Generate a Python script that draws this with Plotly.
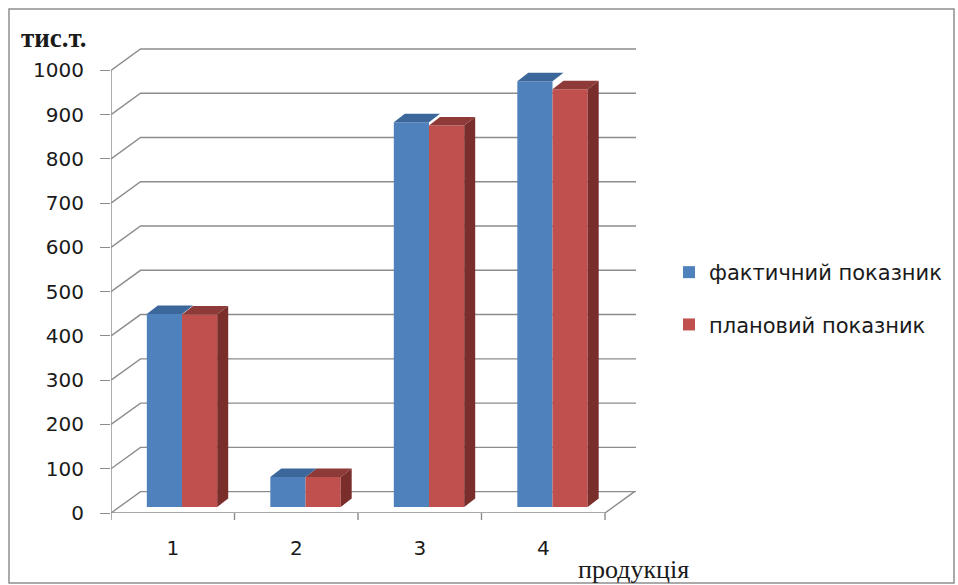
import plotly.graph_objects as go

# ---- data -------------------------------------------------------------
categories = ["1", "2", "3", "4"]
actual = [436, 68, 869, 962]      # фактичний показник, тис.т.
planned = [435, 68, 862, 944]     # плановий показник, тис.т.
y_ticks = [0, 100, 200, 300, 400, 500, 600, 700, 800, 900, 1000]
series_names = ["фактичний показник", "плановий показник"]
y_title = "тис.т."
x_title = "продукція"

# ---- styling / pseudo-3D geometry (axis units) -----------------------
BLUE, BLUE_TOP = "#4F81BD", "#3C679B"
RED, RED_TOP, RED_SIDE = "#C0504D", "#8E3A38", "#7A2E2C"
GRID = "#8C8C8C"
TEXT = "#1a1a1a"

X_MIN, X_MAX = -0.5, 3.751
Y_MAX = 1052.8
WALL_DX, WALL_DY = 0.239, 48.3     # depth of the back wall
BASE = 13.6                        # bars stand a little inside the floor
BAR_DX, BAR_DY = 0.089, 19.2       # bar depth
BAR_W = 0.285
OFFSETS = (-0.21, 0.075)

x_pos = list(range(len(categories)))

fig = go.Figure()
for name, vals, col, off in zip(series_names, (actual, planned), (BLUE, RED), OFFSETS):
    fig.add_trace(go.Bar(
        x=x_pos, y=vals, base=[BASE] * len(vals), name=name,
        offset=off, width=BAR_W, marker=dict(color=col, line=dict(width=0)),
        legendgroup=name, hoverinfo="skip",
    ))

shapes = []

def poly(points, color, layer="above"):
    path = "M" + "L".join(f"{x},{y}" for x, y in points) + "Z"
    return dict(type="path", path=path, xref="x", yref="y", layer=layer,
                fillcolor=color, line=dict(width=0))

def seg(points, color=GRID, width=1.4, layer="below", yref="y"):
    path = "M" + "L".join(f"{x},{y}" for x, y in points)
    return dict(type="path", path=path, xref="x", yref=yref, layer=layer,
                line=dict(color=color, width=width))

# back-wall gridlines with their diagonal links to the value axis
for v in y_ticks:
    shapes.append(seg([(X_MIN, v), (X_MIN + WALL_DX, v + WALL_DY), (X_MAX, v + WALL_DY)]))

# value axis, category axis and the right edge of the floor
shapes.append(seg([(X_MIN, 0), (X_MIN, y_ticks[-1])]))
x_end = X_MIN + len(categories)
shapes.append(seg([(X_MIN, 0), (x_end, 0), (x_end + WALL_DX, WALL_DY)]))

# category boundary tick marks
for k in range(len(categories) + 1):
    b = X_MIN + k
    shapes.append(seg([(b, 0), (b, -7 / 466)], yref="paper"))

# bar top and side faces
for i, (vb, vr) in enumerate(zip(actual, planned)):
    xb0 = i + OFFSETS[0]
    xb1 = xb0 + BAR_W
    xr0 = i + OFFSETS[1]
    xr1 = xr0 + BAR_W
    tb, tr = BASE + vb, BASE + vr
    blue_top = [(xb0, tb), (xb1, tb), (xb1 + BAR_DX, tb + BAR_DY), (xb0 + BAR_DX, tb + BAR_DY)]
    if tr > tb:
        if tr >= tb + BAR_DY:
            blue_top = [(xb0, tb), (xb1, tb), (xb1, tb + BAR_DY), (xb0 + BAR_DX, tb + BAR_DY)]
        else:
            xc = xb1 + (tr - tb) / BAR_DY * BAR_DX
            blue_top = [(xb0, tb), (xb1, tb), (xb1, tr), (xc, tr),
                        (xb1 + BAR_DX, tb + BAR_DY), (xb0 + BAR_DX, tb + BAR_DY)]
    red_top = [(xr0, tr), (xr1, tr), (xr1 + BAR_DX, tr + BAR_DY), (xr0 + BAR_DX, tr + BAR_DY)]
    red_side = [(xr1, BASE), (xr1 + BAR_DX, BASE + BAR_DY), (xr1 + BAR_DX, tr + BAR_DY), (xr1, tr)]
    if tb >= tr:
        shapes += [poly(red_top, RED_TOP), poly(blue_top, BLUE_TOP)]
    else:
        shapes += [poly(blue_top, BLUE_TOP), poly(red_top, RED_TOP)]
    shapes.append(poly(red_side, RED_SIDE))

# chart-area border
PW, PH, ML, MT = 525, 466, 111, 47
def px(xp):
    return (xp - ML) / PW
def py(yp):
    return (MT + PH - yp) / PH
shapes.append(dict(type="rect", xref="paper", yref="paper",
                   x0=px(9), x1=px(954), y0=py(583), y1=py(9),
                   line=dict(color="#8E8E8E", width=1.5), fillcolor="rgba(0,0,0,0)", layer="below"))

annotations = [
    dict(text="<b>" + y_title + "</b>", xref="paper", yref="paper", x=px(19), y=py(38),
         xanchor="left", yanchor="middle", showarrow=False,
         font=dict(family="Liberation Serif", size=27, color=TEXT)),
    dict(text=x_title, xref="paper", yref="paper", x=px(633), y=py(569),
         xanchor="center", yanchor="middle", showarrow=False,
         font=dict(family="Liberation Serif", size=26, color=TEXT)),
]

fig.update_layout(
    width=958, height=585,
    margin=dict(l=ML, r=958 - ML - PW, t=MT, b=585 - MT - PH, autoexpand=False),
    paper_bgcolor="white", plot_bgcolor="white",
    barmode="overlay",
    shapes=shapes, annotations=annotations,
    font=dict(family="DejaVu Sans", size=20, color=TEXT),
    xaxis=dict(range=[X_MIN, X_MAX], tickvals=x_pos, ticktext=categories,
               ticks="", showgrid=False, zeroline=False, showline=False,
               ticklabelstandoff=21, tickfont=dict(size=20)),
    yaxis=dict(range=[0, Y_MAX], tickvals=y_ticks, ticks="outside", ticklen=10,
               tickcolor=GRID, tickwidth=1.4, showgrid=False, zeroline=False,
               showline=False, ticklabelstandoff=12, tickfont=dict(size=20)),
    legend=dict(x=px(669), y=py(252), xanchor="left", yanchor="top",
                font=dict(size=21), tracegroupgap=22, traceorder="grouped",
                bgcolor="rgba(0,0,0,0)"),
    showlegend=True,
)

fig.write_html("out.html")
